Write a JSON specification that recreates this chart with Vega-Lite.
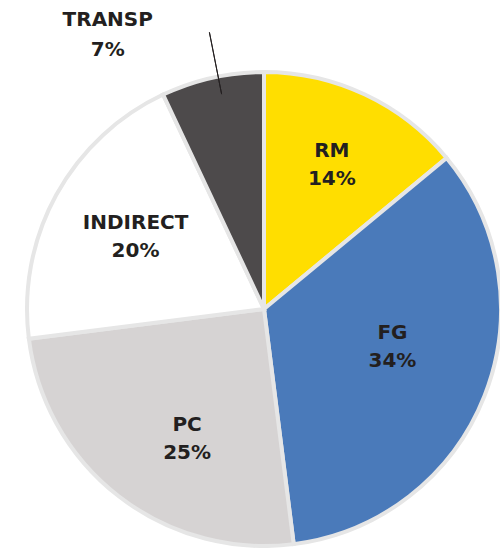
{
  "$schema": "https://vega.github.io/schema/vega-lite/v6.json",
  "width": 472,
  "height": 478,
  "autosize": {"type": "none"},
  "padding": {"left": 28, "top": 70, "right": 0, "bottom": 0},
  "background": "white",
  "view": {"stroke": null},
  "data": {"values": [
    {"cat": "RM", "pct": 0.14, "ord": 1},
    {"cat": "FG", "pct": 0.34, "ord": 2},
    {"cat": "PC", "pct": 0.25, "ord": 3},
    {"cat": "INDIRECT", "pct": 0.20, "ord": 4},
    {"cat": "TRANSP", "pct": 0.07, "ord": 5}
  ]},
  "transform": [
    {"stack": "pct", "groupby": [], "sort": [{"field": "ord"}], "as": ["t0", "t1"]},
    {"calculate": "(datum.t0 + datum.t1) / 2", "as": "mid"}
  ],
  "layer": [
    {
      "mark": {"type": "arc", "outerRadius": 237, "stroke": "#e6e6e6", "strokeWidth": 4},
      "encoding": {
        "theta": {"field": "t0", "type": "quantitative", "scale": {"domain": [0, 1]}},
        "theta2": {"field": "t1"},
        "color": {"field": "cat", "type": "nominal", "legend": null,
          "scale": {"domain": ["RM", "FG", "PC", "INDIRECT", "TRANSP"],
                    "range": ["#ffde00", "#4a7aba", "#d6d3d3", "#ffffff", "#4d4a4b"]}}
      }
    },
    {
      "transform": [{"filter": "datum.cat != 'TRANSP'"}],
      "mark": {"type": "text", "radius": 150,
        "dx": {"expr": "datum.cat == 'FG' ? -11 : datum.cat == 'PC' ? 15 : datum.cat == 'RM' ? 4 : 3"},
        "dy": {"expr": "datum.cat == 'FG' ? -31 : datum.cat == 'PC' ? -3 : datum.cat == 'RM' ? -22 : -14"},
        "font": "DejaVu Sans", "fontWeight": "bold", "fontSize": 20, "fill": "#231f20", "baseline": "middle"},
      "encoding": {
        "theta": {"field": "mid", "type": "quantitative"},
        "text": {"field": "cat", "type": "nominal"}
      }
    },
    {
      "transform": [{"filter": "datum.cat != 'TRANSP'"}],
      "mark": {"type": "text", "radius": 150,
        "dx": {"expr": "datum.cat == 'FG' ? -11 : datum.cat == 'PC' ? 15 : datum.cat == 'RM' ? 4 : 3"},
        "dy": {"expr": "datum.cat == 'FG' ? -3 : datum.cat == 'PC' ? 25 : datum.cat == 'RM' ? 6 : 14"},
        "font": "DejaVu Sans", "fontWeight": "bold", "fontSize": 20, "fill": "#231f20", "baseline": "middle"},
      "encoding": {
        "theta": {"field": "mid", "type": "quantitative"},
        "text": {"field": "pct", "type": "quantitative", "format": ".0%"}
      }
    },
    {
      "transform": [{"filter": "datum.cat == 'TRANSP'"}],
      "mark": {"type": "text", "radius": 290, "dx": -93, "dy": -6, "font": "DejaVu Sans", "fontWeight": "bold", "fontSize": 20, "fill": "#231f20", "baseline": "middle"},
      "encoding": {
        "theta": {"field": "mid", "type": "quantitative"},
        "text": {"field": "cat", "type": "nominal"}
      }
    },
    {
      "transform": [{"filter": "datum.cat == 'TRANSP'"}],
      "mark": {"type": "text", "radius": 290, "dx": -93, "dy": 24, "font": "DejaVu Sans", "fontWeight": "bold", "fontSize": 20, "fill": "#231f20", "baseline": "middle"},
      "encoding": {
        "theta": {"field": "mid", "type": "quantitative"},
        "text": {"field": "pct", "type": "quantitative", "format": ".0%"}
      }
    },
    {
      "transform": [{"filter": "datum.cat == 'TRANSP'"}, {"calculate": "datum.mid + 0.004", "as": "lead"}],
      "mark": {"type": "arc", "innerRadius": 219, "outerRadius": 282, "stroke": "#231f20", "strokeWidth": 1, "fill": null},
      "encoding": {
        "theta": {"field": "lead", "type": "quantitative"},
        "theta2": {"field": "lead"}
      }
    }
  ]
}
